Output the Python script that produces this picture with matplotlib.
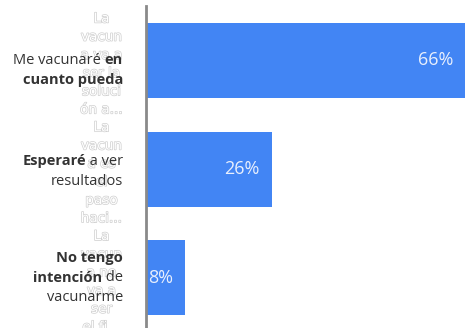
import matplotlib
matplotlib.use("Agg")
import matplotlib.pyplot as plt
import matplotlib.patheffects as pe

# Survey answers and shares (%)
categories = ["Me vacunaré en cuanto pueda",
              "Esperaré a ver resultados",
              "No tengo intención de vacunarme"]
values = [66, 26, 8]
value_labels = ["66%", "26%", "8%"]

# Wrapped axis tick labels (drawn white with a faint outline)
tick_labels = ["La\nvacun\na va a\nser la\nsoluci\nón a...",
               "La\nvacun\na es\nel\npaso\nhaci...",
               "La\nvacun\na no\nva a\nser\nel fi..."]

# Category captions with mixed weight: list of lines, each a list of (text, weight)
captions = [
    [[("Me vacunaré ", "normal"), ("en", "bold")],
     [("cuanto pueda", "bold")]],
    [[("Esperaré", "bold"), (" a ver", "normal")],
     [("resultados", "normal")]],
    [[("No tengo", "bold")],
     [("intención", "bold"), (" de", "normal")],
     [("vacunarme", "normal")]],
]

W, H = 465, 328
BAR = "#4285f4"
TXT = "#333333"
FONT = "Open Sans"

fig = plt.figure(figsize=(W / 100, H / 100), dpi=100)
ax = fig.add_axes([146 / W, 0, 1 - 146 / W, (H - 6) / H])

y = list(range(len(values)))
ax.barh(y, values, height=0.69, color=BAR, zorder=2)
ax.set_xlim(0, max(values))
ax.set_ylim(2.46, -0.5)

for s in ["top", "right", "bottom"]:
    ax.spines[s].set_visible(False)
ax.spines["left"].set_color("#8a8a8a")
ax.spines["left"].set_linewidth(2)
ax.set_xticks([])
ax.set_yticks(y)
ax.set_yticklabels(tick_labels, fontsize=9.8, color="white", family="DejaVu Sans",
                   ha="center", linespacing=1.38)
for t in ax.get_yticklabels():
    t.set_path_effects([pe.withStroke(linewidth=1.0, foreground="#cfcfcf")])
ax.tick_params(axis="y", length=0, pad=32)

# value labels inside the bar ends
for yi, v, lab in zip(y, values, value_labels):
    ax.annotate(lab, xy=(v, yi), xytext=(-12, 0), textcoords="offset pixels",
                ha="right", va="center", fontsize=13, color="#e8effd", family=FONT)

# captions, right aligned left of the axis
fig.canvas.draw()
renderer = fig.canvas.get_renderer()
x_right = 123
line_h = 20
caption_dy = [10, 2, 0]
for yi, lines, dy in zip(y, captions, caption_dy):
    cy = H - ax.transData.transform((0, yi))[1] + dy
    n = len(lines)
    for k, segs in enumerate(lines):
        ly = cy + (k - (n - 1) / 2) * line_h
        x = x_right
        for text, weight in reversed(segs):
            t = fig.text(x / W, 1 - ly / H, text, ha="right", va="center",
                         fontsize=10.5, color=TXT, weight=weight, family=FONT)
            w = t.get_window_extent(renderer).width
            x -= w

fig.savefig("out.png", dpi=100)
